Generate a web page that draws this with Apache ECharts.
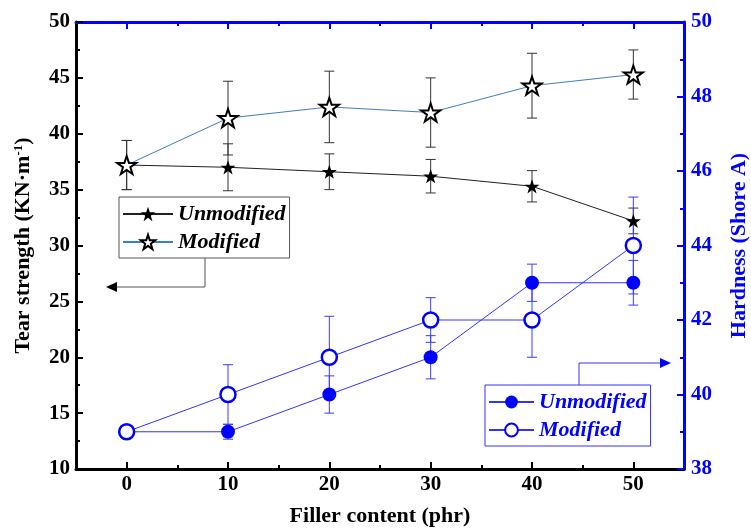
<!DOCTYPE html>
<html>
<head>
<meta charset="utf-8">
<script src="https://cdn.jsdelivr.net/npm/echarts@6/dist/echarts.min.js"></script>
<style>html,body{margin:0;padding:0;background:#fff}#c{width:751px;height:529px}</style>
</head>
<body>
<div id="c"></div>
<script>
// ---- data ----
const fillerContent = [0, 10, 20, 30, 40, 50];
const tearUnmodified = [37.2, 37.0, 36.6, 36.2, 35.3, 32.2];
const tearUnmodifiedErr = [2.2, 2.1, 1.6, 1.5, 1.4, 1.15];
const tearModified = [37.2, 41.4, 42.4, 41.9, 44.3, 45.3];
const tearModifiedErr = [2.2, 3.3, 3.2, 3.1, 2.9, 2.2];
const hardUnmodified = [39, 39, 40, 41, 43, 43];
const hardUnmodifiedErr = [0, 0.2, 0.5, 0.58, 0.5, 0.6];
const hardModified = [39, 40, 41, 42, 42, 44];
const hardModifiedErr = [0, 0.8, 1.1, 0.6, 1.0, 1.3];
const xMajorTicks = [0, 10, 20, 30, 40, 50];
const xMinorTicks = [5, 15, 25, 35, 45];
const legendNames = ['Unmodified', 'Modified'];

const FONT = 'Liberation Serif';
const BLUE = '#0000ff';
const STAR = 'path://M50,0 L61.8,35.1 L98.1,35.1 L68.8,56.7 L79.4,91.2 L50,70 L20.6,91.2 L31.2,56.7 L1.9,35.1 L38.2,35.1 Z';

function pts(ys) { return fillerContent.map((x, i) => [x, ys[i]]); }
function errs(ys, es) {
  return fillerContent.map((x, i) => [x, ys[i] - es[i], ys[i] + es[i]]).filter((d, i) => es[i] > 0);
}
function errRender(color) {
  return function (params, api) {
    const x = api.value(0), lo = api.value(1), hi = api.value(2);
    const p1 = api.coord([x, hi]), p2 = api.coord([x, lo]);
    const w = 5;
    const st = { stroke: color, lineWidth: 1 };
    return {
      type: 'group', children: [
        { type: 'line', shape: { x1: p1[0], y1: p1[1], x2: p2[0], y2: p2[1] }, style: st },
        { type: 'line', shape: { x1: p1[0] - w, y1: p1[1], x2: p1[0] + w, y2: p1[1] }, style: st },
        { type: 'line', shape: { x1: p2[0] - w, y1: p2[1], x2: p2[0] + w, y2: p2[1] }, style: st }
      ]
    };
  };
}

const chart = echarts.init(document.getElementById('c'), null, { renderer: 'canvas' });
const hiddenX = { type: 'value', min: -5, max: 55, axisLine: { show: false }, axisLabel: { show: false }, splitLine: { show: false } };

const option = {
  backgroundColor: '#fff',
  animation: false,
  grid: { left: 76, right: 67, top: 22, bottom: 60, containLabel: false, outerBoundsMode: 'none' },
  xAxis: [
    {
      type: 'value', min: -5, max: 55, position: 'bottom',
      name: 'Filler content (phr)', nameLocation: 'middle', nameGap: 36,
      nameTextStyle: { fontFamily: FONT, fontWeight: 'bold', fontSize: 22, color: '#000' },
      axisLine: { show: true, onZero: false, lineStyle: { color: '#000', width: 3 } },
      axisTick: { show: true, inside: true, length: 7, lineStyle: { color: '#000', width: 2 }, customValues: xMajorTicks },
      axisLabel: { fontFamily: FONT, fontWeight: 'bold', fontSize: 21, color: '#000', margin: 5, customValues: xMajorTicks },
      splitLine: { show: false }
    },
    Object.assign({}, hiddenX, { position: 'bottom', axisTick: { show: true, inside: true, length: 4, lineStyle: { color: '#000', width: 2 }, customValues: xMinorTicks } }),
    Object.assign({}, hiddenX, { position: 'top', axisLine: { show: true, onZero: false, lineStyle: { color: BLUE, width: 3 } }, axisTick: { show: true, inside: true, length: 7, lineStyle: { color: BLUE, width: 2 }, customValues: xMajorTicks } }),
    Object.assign({}, hiddenX, { position: 'top', axisTick: { show: true, inside: true, length: 4, lineStyle: { color: BLUE, width: 2 }, customValues: xMinorTicks } })
  ],
  yAxis: [
    {
      type: 'value', min: 10, max: 50, interval: 5, position: 'left',
      name: 'Tear strength (KN·m{sup|-1})', nameLocation: 'middle', nameGap: 41, nameRotate: 90,
      nameTextStyle: { fontFamily: FONT, fontWeight: 'bold', fontSize: 22, color: '#000',
        rich: { sup: { fontFamily: FONT, fontWeight: 'bold', fontSize: 13, color: '#000', verticalAlign: 'top', padding: [0, 0, 10, 0] } } },
      axisLine: { show: true, onZero: false, lineStyle: { color: '#000', width: 3 } },
      axisTick: { show: true, inside: true, length: 7, lineStyle: { color: '#000', width: 2 } },
      minorTick: { show: true, splitNumber: 2, length: 4, lineStyle: { color: '#000', width: 2 } },
      axisLabel: { fontFamily: FONT, fontWeight: 'bold', fontSize: 21, color: '#000', margin: 6 },
      splitLine: { show: false }, minorSplitLine: { show: false }
    },
    {
      type: 'value', min: 38, max: 50, interval: 2, position: 'right',
      name: 'Hardness (Shore A)', nameLocation: 'middle', nameGap: 44, nameRotate: 90,
      nameTextStyle: { fontFamily: FONT, fontWeight: 'bold', fontSize: 22, color: BLUE },
      axisLine: { show: true, onZero: false, lineStyle: { color: BLUE, width: 3 } },
      axisTick: { show: true, inside: true, length: 7, lineStyle: { color: BLUE, width: 2 } },
      minorTick: { show: true, splitNumber: 2, length: 4, lineStyle: { color: BLUE, width: 2 } },
      axisLabel: { fontFamily: FONT, fontWeight: 'bold', fontSize: 21, color: BLUE, margin: 7 },
      splitLine: { show: false }, minorSplitLine: { show: false }
    }
  ],
  legend: [
    {
      data: ['T|Unmodified', 'T|Modified'], orient: 'vertical', left: 119, top: 197,
      padding: [6, 4, 5, 3], itemGap: 6, itemWidth: 50, itemHeight: 18,
      borderColor: '#555', borderWidth: 1, selectedMode: false,
      formatter: n => n.split('|')[1],
      textStyle: { fontFamily: FONT, fontWeight: 'bold', fontStyle: 'italic', fontSize: 22, color: '#000', lineHeight: 22 }
    },
    {
      data: ['H|Unmodified', 'H|Modified'], orient: 'vertical', left: 485, top: 385,
      padding: [6, 4, 5, 3], itemGap: 6, itemWidth: 45, itemHeight: 16,
      borderColor: '#3333ff', borderWidth: 1, selectedMode: false,
      formatter: n => n.split('|')[1],
      textStyle: { fontFamily: FONT, fontWeight: 'bold', fontStyle: 'italic', fontSize: 22, color: BLUE, lineHeight: 22 }
    }
  ],
  graphic: [
    { type: 'polyline', shape: { points: [[205, 258], [205, 287], [114, 287]] }, style: { stroke: '#555', lineWidth: 1, fill: null }, z: 100 },
    { type: 'polygon', shape: { points: [[106, 287], [117, 282], [117, 292]] }, style: { fill: '#000' }, z: 100 },
    { type: 'polyline', shape: { points: [[579, 385], [579, 363], [662, 363]] }, style: { stroke: '#3333ff', lineWidth: 1, fill: null }, z: 100 },
    { type: 'polygon', shape: { points: [[671, 363], [660, 358], [660, 368]] }, style: { fill: BLUE }, z: 100 }
  ],
  series: [
    { type: 'custom', name: 'errT1', xAxisIndex: 0, yAxisIndex: 0, renderItem: errRender('#333'), data: errs(tearUnmodified, tearUnmodifiedErr), z: 1, encode: { x: 0, y: [1, 2] } },
    { type: 'custom', name: 'errT2', xAxisIndex: 0, yAxisIndex: 0, renderItem: errRender('#333'), data: errs(tearModified, tearModifiedErr), z: 1, encode: { x: 0, y: [1, 2] } },
    { type: 'custom', name: 'errH1', xAxisIndex: 0, yAxisIndex: 1, renderItem: errRender('#3c3cff'), data: errs(hardUnmodified, hardUnmodifiedErr), z: 1, encode: { x: 0, y: [1, 2] } },
    { type: 'custom', name: 'errH2', xAxisIndex: 0, yAxisIndex: 1, renderItem: errRender('#3c3cff'), data: errs(hardModified, hardModifiedErr), z: 1, encode: { x: 0, y: [1, 2] } },
    {
      type: 'line', name: 'H|Unmodified', xAxisIndex: 0, yAxisIndex: 1, data: pts(hardUnmodified),
      symbol: 'circle', symbolSize: 14, lineStyle: { color: '#3333ff', width: 1 },
      itemStyle: { color: BLUE, borderColor: BLUE, borderWidth: 0 }, z: 3
    },
    {
      type: 'line', name: 'H|Modified', xAxisIndex: 0, yAxisIndex: 1, data: pts(hardModified),
      symbol: 'circle', symbolSize: 15, lineStyle: { color: '#3333ff', width: 1 },
      itemStyle: { color: '#fff', borderColor: BLUE, borderWidth: 2.5 }, z: 4
    },
    {
      type: 'line', name: 'T|Unmodified', xAxisIndex: 0, yAxisIndex: 0, data: pts(tearUnmodified),
      symbol: STAR, symbolKeepAspect: true, symbolSize: 15, lineStyle: { color: '#222', width: 1 },
      itemStyle: { color: '#000', borderWidth: 0 }, z: 3
    },
    {
      type: 'line', name: 'T|Modified', xAxisIndex: 0, yAxisIndex: 0, data: pts(tearModified),
      symbol: STAR, symbolKeepAspect: true, symbolSize: 19, lineStyle: { color: '#3d7fc0', width: 1 },
      itemStyle: { color: '#fff', borderColor: '#000', borderWidth: 2 }, z: 4
    }
  ]
};
chart.setOption(option);
</script>
</body>
</html>
